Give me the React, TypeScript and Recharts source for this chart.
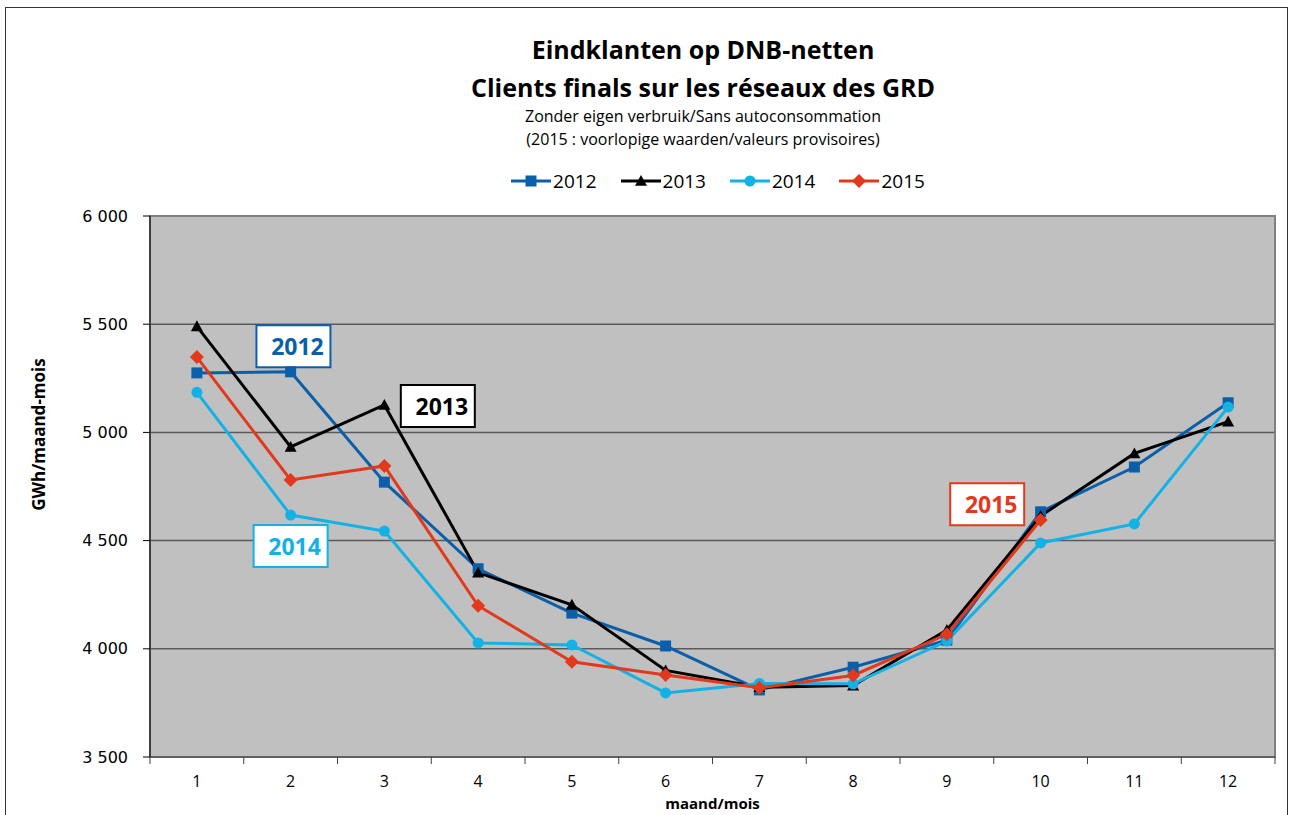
import React from 'react'
import {
    LineChart,
    Line,
    XAxis,
    YAxis,
    CartesianGrid,
    Legend,
    ReferenceDot,
    ReferenceArea,
} from 'recharts'

// month numbers and tick positions
const months = [1, 2, 3, 4, 5, 6, 7, 8, 9, 10, 11, 12]
const monthEdges = [0.5, 1, 1.5, 2, 2.5, 3, 3.5, 4, 4.5, 5, 5.5, 6, 6.5, 7, 7.5, 8, 8.5, 9, 9.5, 10, 10.5, 11, 11.5, 12, 12.5]
const yTicks = [3500, 4000, 4500, 5000, 5500, 6000]

// GWh per month
const s2012 = [5275, 5280, 4770, 4370, 4165, 4013, 3810, 3915, 4040, 4633, 4840, 5137]
const s2013 = [5490, 4933, 5127, 4352, 4203, 3900, 3822, 3830, 4087, 4614, 4903, 5050]
const s2014 = [5185, 4618, 4544, 4027, 4018, 3796, 3840, 3838, 4036, 4489, 4577, 5117]
const s2015 = [5348, 4780, 4845, 4199, 3940, 3879, 3820, 3877, 4067, 4595, null, null]

const C2012 = '#0B5FAA'
const C2013 = '#000000'
const C2014 = '#12B2E6'
const C2015 = '#E2391C'

const FONT = '"Open Sans", sans-serif'

const data = months.map((m, i) => ({
    m,
    y2012: s2012[i],
    y2013: s2013[i],
    y2014: s2014[i],
    y2015: s2015[i],
}))

const Square = ({ cx, cy, color, s = 5.5 }: any) =>
    cx == null || cy == null ? null : (
        <rect x={cx - s} y={cy - s} width={s * 2} height={s * 2} fill={color} />
    )

const Triangle = ({ cx, cy, color, s = 6 }: any) =>
    cx == null || cy == null ? null : (
        <polygon points={`${cx},${cy - s} ${cx + s},${cy + s * 0.8} ${cx - s},${cy + s * 0.8}`} fill={color} />
    )

const Circle = ({ cx, cy, color, s = 5.5 }: any) =>
    cx == null || cy == null ? null : <circle cx={cx} cy={cy} r={s} fill={color} />

const Diamond = ({ cx, cy, color, s = 7 }: any) =>
    cx == null || cy == null ? null : (
        <polygon points={`${cx},${cy - s} ${cx + s},${cy} ${cx},${cy + s} ${cx - s},${cy}`} fill={color} />
    )

const series = [
    { key: 'y2012', name: '2012', color: C2012, Marker: Square },
    { key: 'y2013', name: '2013', color: C2013, Marker: Triangle },
    { key: 'y2014', name: '2014', color: C2014, Marker: Circle },
    { key: 'y2015', name: '2015', color: C2015, Marker: Diamond },
]

// year tags in the plot: [x, y] in data units
const tags = [
    { name: '2012', color: C2012, x: 2.03, y: 5398 },
    { name: '2013', color: C2013, x: 3.57, y: 5122 },
    { name: '2014', color: C2014, x: 2.0, y: 4475 },
    { name: '2015', color: C2015, x: 9.43, y: 4668 },
]

const fmt = (v: number) => String(v).replace(/\B(?=(\d{3})+(?!\d))/g, ' ')

function MonthTick({ x, y, payload }: any) {
    const v = payload.value
    if (Number.isInteger(v)) {
        return (
            <text x={x} y={y + 30} textAnchor="middle" fontFamily={FONT} fontSize={16} fill="#000">
                {v}
            </text>
        )
    }
    return <line x1={x} y1={y} x2={x} y2={y + 7} stroke="#404040" strokeWidth={1} />
}

function YTitle({ viewBox }: any) {
    const x = viewBox.x + 38
    const y = viewBox.y + viewBox.height / 2 - 52
    return (
        <text x={x} y={y} transform={`rotate(-90 ${x} ${y})`} textAnchor="middle" dominantBaseline="central" fontFamily={FONT} fontWeight={700} fontSize={17} fill="#000">
            GWh/maand-mois
        </text>
    )
}

function LegendBox() {
    return (
        <div style={{ display: 'flex', justifyContent: 'center', gap: 24, fontFamily: FONT, fontSize: 19 }}>
            {series.map((s) => (
                <div key={s.key} style={{ display: 'flex', alignItems: 'center' }}>
                    <svg width={40} height={16}>
                        <line x1={0} y1={8} x2={40} y2={8} stroke={s.color} strokeWidth={3} />
                        <s.Marker cx={20} cy={8} color={s.color} />
                    </svg>
                    <span style={{ marginLeft: 2 }}>{s.name}</span>
                </div>
            ))}
        </div>
    )
}

function TagBox({ cx, cy, color, name }: any) {
    if (cx == null || cy == null) return null
    return (
        <g>
            <rect x={cx - 37} y={cy - 21} width={74} height={42} fill="#fff" stroke={color} strokeWidth={2} />
            <text x={cx + 4} y={cy + 9} textAnchor="middle" fontFamily={FONT} fontWeight={700} fontSize={23} fill={color}>
                {name}
            </text>
        </g>
    )
}

export default function App() {
    return (
        <div style={{ position: 'absolute', left: 0, top: 0, width: 1295, height: 815, background: '#fff', overflow: 'hidden' }}>
            <div style={{ position: 'absolute', left: 5, top: 7, width: 1281, height: 830, border: '1.5px solid #333' }} />
            <div style={{ position: 'absolute', left: 0, width: 1406, top: 30, textAlign: 'center', fontFamily: FONT, color: '#000' }}>
                <div style={{ fontSize: 25, fontWeight: 700, lineHeight: '38px' }}>Eindklanten op DNB-netten</div>
                <div style={{ fontSize: 25, fontWeight: 700, lineHeight: '38px' }}>Clients finals sur les réseaux des GRD</div>
                <div style={{ fontSize: 16, lineHeight: '22px', marginTop: -1 }}>Zonder eigen verbruik/Sans autoconsommation</div>
                <div style={{ fontSize: 16, lineHeight: '22px', marginTop: 1 }}>(2015 : voorlopige waarden/valeurs provisoires)</div>
            </div>
            <LineChart
                width={1295}
                height={815}
                data={data}
                margin={{ top: 216, right: 20, bottom: 0, left: 0 }}
            >
                <CartesianGrid vertical={false} fill="#C0C0C0" stroke="#5a5a5a" strokeWidth={1.5} />
                <XAxis
                    dataKey="m"
                    type="number"
                    domain={[0.5, 12.5]}
                    ticks={monthEdges}
                    interval={0}
                    height={58}
                    tickLine={false}
                    tickSize={0}
                    tickMargin={0}
                    tick={<MonthTick />}
                    stroke="#404040"
                    label={{ value: 'maand/mois', position: 'insideBottom', offset: 6, fontFamily: FONT, fontWeight: 700, fontSize: 15, fill: '#000' }}
                />
                <YAxis
                    domain={[3500, 6000]}
                    ticks={yTicks}
                    width={150}
                    tickSize={7}
                    tickMargin={15}
                    tickFormatter={fmt}
                    stroke="#000"
                    tick={{ fontFamily: '"DejaVu Sans", sans-serif', fontSize: 16, fill: '#000' }}
                    label={<YTitle />}
                />
                <ReferenceArea x1={0.5} x2={12.5} y1={3500} y2={6000} fill="none" stroke="#808080" strokeWidth={2} />
                <Legend
                    verticalAlign="middle"
                    align="center"
                    wrapperStyle={{ top: 168, left: 0, width: 1436 }}
                    content={() => <LegendBox />}
                />
                {series.map((s) => (
                    <Line
                        key={s.key}
                        type="linear"
                        dataKey={s.key}
                        name={s.name}
                        stroke={s.color}
                        strokeWidth={3}
                        dot={(p: any) => <s.Marker key={p.index} cx={p.cx} cy={p.cy} color={s.color} />}
                        activeDot={false}
                        isAnimationActive={false}
                    />
                ))}
                {tags.map((t) => (
                    <ReferenceDot
                        key={t.name}
                        x={t.x}
                        y={t.y}
                        r={0}
                        shape={(p: any) => <TagBox cx={p.cx} cy={p.cy} color={t.color} name={t.name} />}
                    />
                ))}
            </LineChart>
        </div>
    )
}
